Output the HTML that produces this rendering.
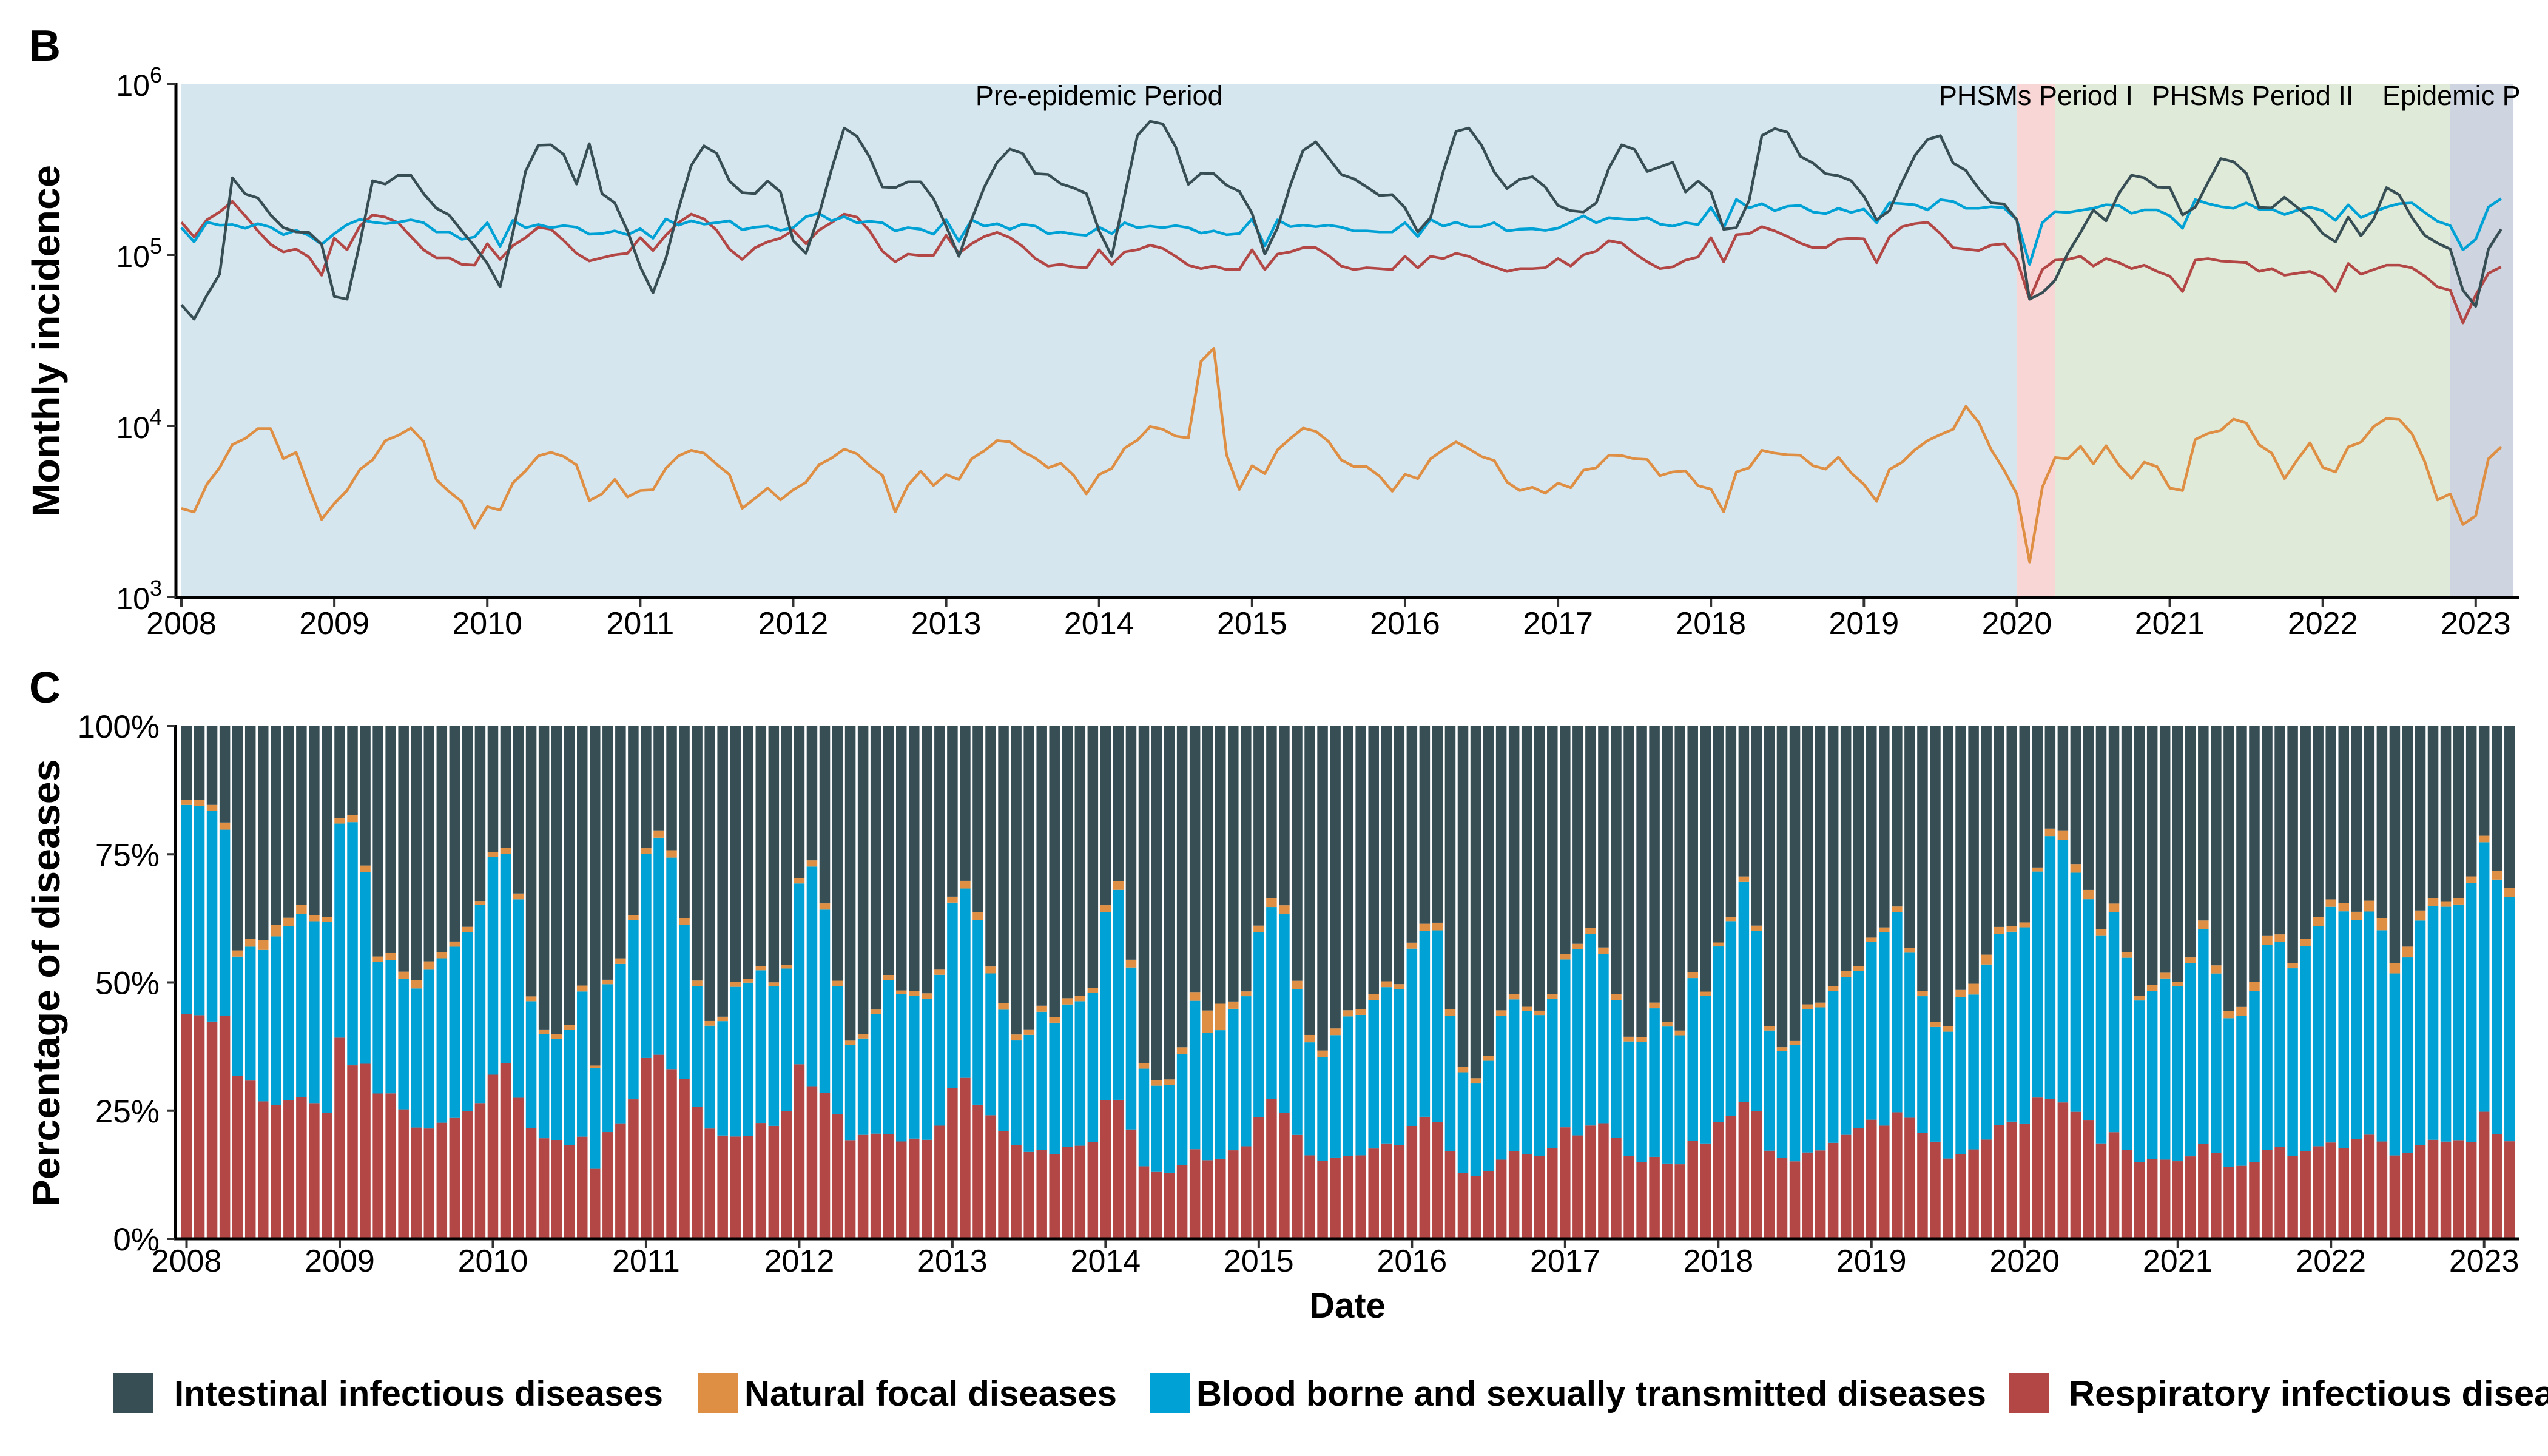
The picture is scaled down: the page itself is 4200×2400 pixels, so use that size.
<!DOCTYPE html>
<html><head><meta charset="utf-8"><style>
html,body{margin:0;padding:0;background:#fff;}
svg{display:block;font-family:"Liberation Sans",Arial,sans-serif;}
</style></head><body>
<svg id="chart" xmlns="http://www.w3.org/2000/svg" width="4200" height="2400" viewBox="0 0 4200 2400">
<defs><clipPath id="clipB"><rect x="299" y="120" width="3855" height="866"/></clipPath></defs>
<rect x="0" y="0" width="4200" height="2400" fill="#fff"/>
<g id="panelB"></g>
<g id="panelC"></g>
<g id="legend"></g>
</svg>
<script>
// ---- data (monthly incidence, thousands), Jan 2008 .. Mar 2023 ----
const startYear = 2008;
const yearTicks = ["2008","2009","2010","2011","2012","2013","2014","2015","2016","2017","2018","2019","2020","2021","2022","2023"];
const seriesNames = ["Intestinal infectious diseases","Natural focal diseases","Blood borne and sexually transmitted diseases","Respiratory infectious diseases"];
const intestinal = [51,42,58,77,282,227,215,171,144,136,135,115,57,55,117,271,259,292,292,228,187,171,138,112,89,65,134,307,437,439,385,259,446,228,201,138,85,60,95,185,333,433,391,270,231,228,270,233,121,102,169,314,551,492,372,249,247,267,267,213,147,98,161,249,347,415,391,298,295,260,246,228,138,98,222,497,603,582,427,258,300,298,255,235,175,101,144,255,407,457,368,295,278,249,222,225,188,136,165,307,526,551,437,305,244,276,286,249,194,181,178,201,321,439,413,307,326,347,233,270,233,141,144,208,497,546,520,377,344,298,290,271,220,160,181,267,380,472,497,344,311,244,201,198,160,55,60,71,102,135,183,158,228,292,282,249,247,171,190,265,365,350,300,189,188,217,189,165,133,119,166,129,162,247,224,165,130,117,108,62,50,108,141];
const naturalFocal = [3.29,3.14,4.55,5.69,7.77,8.44,9.64,9.64,6.44,7.0,4.38,2.84,3.52,4.19,5.56,6.32,8.2,8.8,9.7,8.1,4.85,4.13,3.6,2.53,3.37,3.22,4.63,5.46,6.68,7.0,6.62,5.9,3.65,4.0,4.87,3.84,4.19,4.23,5.64,6.68,7.2,6.93,5.96,5.19,3.3,3.77,4.33,3.69,4.23,4.68,5.9,6.47,7.32,6.87,5.85,5.14,3.14,4.49,5.44,4.49,5.19,4.85,6.42,7.16,8.2,8.06,7.09,6.47,5.69,6.04,5.14,4.0,5.19,5.64,7.42,8.25,9.9,9.55,8.72,8.5,23.9,28.4,6.78,4.25,5.85,5.26,7.25,8.44,9.7,9.3,8.1,6.32,5.77,5.77,5.08,4.15,5.21,4.92,6.42,7.25,8.06,7.36,6.62,6.27,4.7,4.19,4.38,4.04,4.63,4.35,5.51,5.69,6.74,6.71,6.42,6.36,5.12,5.38,5.46,4.47,4.27,3.15,5.38,5.69,7.2,6.93,6.78,6.74,5.85,5.59,6.56,5.31,4.55,3.62,5.56,6.13,7.25,8.2,8.9,9.55,13.0,10.5,7.25,5.51,4.0,1.6,4.38,6.53,6.42,7.6,5.99,7.66,5.9,4.92,6.13,5.77,4.33,4.19,8.33,9.04,9.42,10.96,10.4,7.77,6.93,4.92,6.32,7.96,5.72,5.38,7.53,8.03,9.9,11.06,10.9,9.0,6.18,3.69,4.0,2.65,2.98,6.42,7.53];
const bloodBorne = [144,119,155,149,150,143,152,145,131,139,130,115,133,150,161,155,152,155,160,154,136,136,123,127,154,112,159,144,150,144,148,145,132,133,138,131,142,125,162,149,158,151,154,158,140,145,147,139,144,167,175,158,167,154,157,154,138,144,141,132,160,120,160,147,152,141,151,147,133,136,132,130,145,133,154,144,147,144,148,144,134,138,131,133,162,113,160,146,149,146,149,145,138,138,136,136,154,128,161,147,155,146,146,154,138,141,142,139,143,155,169,154,165,162,160,165,151,147,154,150,189,144,211,188,199,181,192,194,178,174,187,177,185,154,201,199,196,183,210,205,187,187,191,188,160,88,154,179,177,182,187,196,194,175,183,183,169,143,210,199,191,187,201,185,185,172,182,190,181,159,196,165,178,190,199,201,177,157,148,107,123,190,213];
const respiratory = [155,127,160,178,205,169,138,115,104,108,97,76,125,107,147,171,166,154,128,107,96,96,88,87,116,94,113,126,145,141,121,102,92,96,100,102,126,106,130,154,173,162,139,108,94,110,119,125,139,116,139,154,173,166,138,105,91,101,99,99,130,102,116,128,135,126,112,95,86,88,85,84,107,88,104,107,114,109,98,87,83,86,82,82,107,82,101,104,110,110,99,86,82,84,83,82,98,84,98,95,102,98,90,85,80,83,83,84,95,86,100,105,121,117,102,91,83,85,93,97,126,91,131,133,146,138,128,117,110,110,123,125,124,90,127,146,152,155,133,110,108,106,114,116,94,55,82,93,94,98,86,95,90,83,87,80,75,61,93,95,92,91,90,80,83,76,78,80,74,61,89,77,82,87,87,84,75,65,62,40,58,78,85];
const periodNames = ["Pre-epidemic Period","PHSMs Period I","PHSMs Period II","Epidemic Period"];
const periodStart = [0,144,147,178];
const periodEnd = [144,147,178,183];
const bTicks = [6,5,4,3];
const cTicks = [1,0.75,0.5,0.25,0];
const cTickLabels = ["100%","75%","50%","25%","0%"];

const colors = ["#374e55","#df8f44","#00a1d5","#b24745"];
const periodColors = ["#d6e6ee","#f9d6d6","#e0ead8","#cfd5e0"];
const NS = "http://www.w3.org/2000/svg";
function mk(tag, attrs, parent, text){
  const e = document.createElementNS(NS, tag);
  for (const k in attrs) e.setAttribute(k, attrs[k]);
  if (text !== undefined) e.textContent = text;
  parent.appendChild(e); return e;
}
const gB = document.getElementById('panelB');
const gC = document.getElementById('panelC');
const gL = document.getElementById('legend');

const xB = i => 299 + 21.01 * i;
const yB = v => 138 + (6 - Math.log10(v * 1000)) * 282;
const xC = i => 307.5 + 21.04 * i;
const yC = p => 2042 - p * 845;

const bgG = mk('g', {'clip-path':'url(#clipB)'}, gB);
const labG = mk('g', {'clip-path':'url(#clipB)'}, gB);
periodNames.forEach((nm, k) => {
  const x0 = k === 0 ? 299 : xB(periodStart[k]);
  const x1 = k === 3 ? 4143 : xB(periodEnd[k]);
  const r = mk('rect', {x:x0, y:139, width:x1 - x0, height:846, fill:periodColors[k]}, bgG);
  
  
  const cx = (x0 + x1) / 2;
  const t = mk('text', {x:cx, y:173, 'font-size':45, 'text-anchor':'middle', fill:'#000'}, labG, nm);
  
  
});

const seriesB = [naturalFocal, respiratory, bloodBorne, intestinal];
const seriesBColor = [colors[1], colors[3], colors[2], colors[0]];
const seriesBName = ['natural-focal-line','respiratory-line','blood-borne-line','intestinal-line'];
seriesB.forEach((arr, s) => {
  const d = arr.map((v, i) => (i ? 'L' : 'M') + xB(i).toFixed(1) + ',' + yB(v).toFixed(1)).join('');
  const p = mk('path', {d:d, fill:'none', stroke:seriesBColor[s], 'stroke-width':4.5, 'stroke-linejoin':'round'}, gB);
  
  
});

mk('line', {x1:290, y1:137, x2:290, y2:987, stroke:'#000', 'stroke-width':5}, gB);
mk('line', {x1:288, y1:985, x2:4153, y2:985, stroke:'#000', 'stroke-width':5}, gB);
bTicks.forEach(e => {
  const y = 138 + (6 - e) * 282;
  mk('line', {x1:275, y1:y, x2:290, y2:y, stroke:'#333', 'stroke-width':4}, gB);
  const t = mk('text', {x:267, y:y + 20, 'font-size':50, 'text-anchor':'end', fill:'#000'}, gB);
  
  
  mk('tspan', {}, t, '10');
  mk('tspan', {'font-size':36, dy:-22}, t, String(e));
});
yearTicks.forEach((lab, k) => {
  const x = xB(12 * k);
  mk('line', {x1:x, y1:987, x2:x, y2:1000, stroke:'#333', 'stroke-width':4}, gB);
  const t = mk('text', {x:x, y:1045, 'font-size':52, 'text-anchor':'middle', fill:'#000'}, gB, lab);
  
  
});
let t = mk('text', {x:0, y:0, 'font-size':64, 'font-weight':'bold', 'text-anchor':'middle', textLength:580, lengthAdjust:'spacingAndGlyphs', transform:'translate(98,562) rotate(-90)'}, gB, 'Monthly incidence');


t = mk('text', {x:48, y:100, 'font-size':72, 'font-weight':'bold'}, gB, 'B');



const stackOrder = [respiratory, bloodBorne, naturalFocal, intestinal];
const stackColors = [colors[3], colors[2], colors[1], colors[0]];
const stackNames = ['respiratory','blood-borne','natural-focal','intestinal'];
for (let i = 0; i < intestinal.length; i++) {
  const total = intestinal[i] + naturalFocal[i] + bloodBorne[i] + respiratory[i];
  let cum = 0;
  stackOrder.forEach((arr, s) => {
    const p = arr[i] / total;
    const y1 = yC(cum), y2 = yC(cum + p);
    const r = mk('rect', {x:(xC(i) - 8.75).toFixed(2), y:y2.toFixed(2), width:17.5, height:(y1 - y2).toFixed(2), fill:stackColors[s]}, gC);
    
    
    cum += p;
  });
}
mk('line', {x1:289, y1:1195, x2:289, y2:2044, stroke:'#000', 'stroke-width':5}, gC);
mk('line', {x1:287, y1:2042, x2:4153, y2:2042, stroke:'#000', 'stroke-width':5}, gC);
cTicks.forEach((p, k) => {
  const y = yC(p);
  mk('line', {x1:275, y1:y, x2:289, y2:y, stroke:'#333', 'stroke-width':4}, gC);
  const tt = mk('text', {x:263, y:y + 19, 'font-size':53, 'text-anchor':'end', fill:'#000'}, gC, cTickLabels[k]);
  
  
});
yearTicks.forEach((lab, k) => {
  const x = xC(12 * k);
  mk('line', {x1:x, y1:2044, x2:x, y2:2057, stroke:'#333', 'stroke-width':4}, gC);
  const tt = mk('text', {x:x, y:2096, 'font-size':52, 'text-anchor':'middle', fill:'#000'}, gC, lab);
  
  
});
t = mk('text', {x:0, y:0, 'font-size':64, 'font-weight':'bold', 'text-anchor':'middle', textLength:737, lengthAdjust:'spacingAndGlyphs', transform:'translate(98,1620) rotate(-90)'}, gC, 'Percentage of diseases');


t = mk('text', {x:2221, y:2172, 'font-size':58, 'font-weight':'bold', 'text-anchor':'middle'}, gC, 'Date');


t = mk('text', {x:48, y:1158, 'font-size':72, 'font-weight':'bold'}, gC, 'C');



const legSq = [187, 1150, 1895, 3311];
const legTx = [287, 1227, 1972, 3410];
const legLen = [806, 614, 1302, 900];
seriesNames.forEach((nm, k) => {
  const g = mk('g', {}, gL);
  
  
  mk('rect', {x:legSq[k], y:2263, width:66, height:66, fill:colors[k]}, g);
  mk('text', {x:legTx[k], y:2317, 'font-size':58, 'font-weight':'bold', fill:'#000', textLength:legLen[k], lengthAdjust:'spacingAndGlyphs'}, g, nm);
});
</script>
</body></html>
